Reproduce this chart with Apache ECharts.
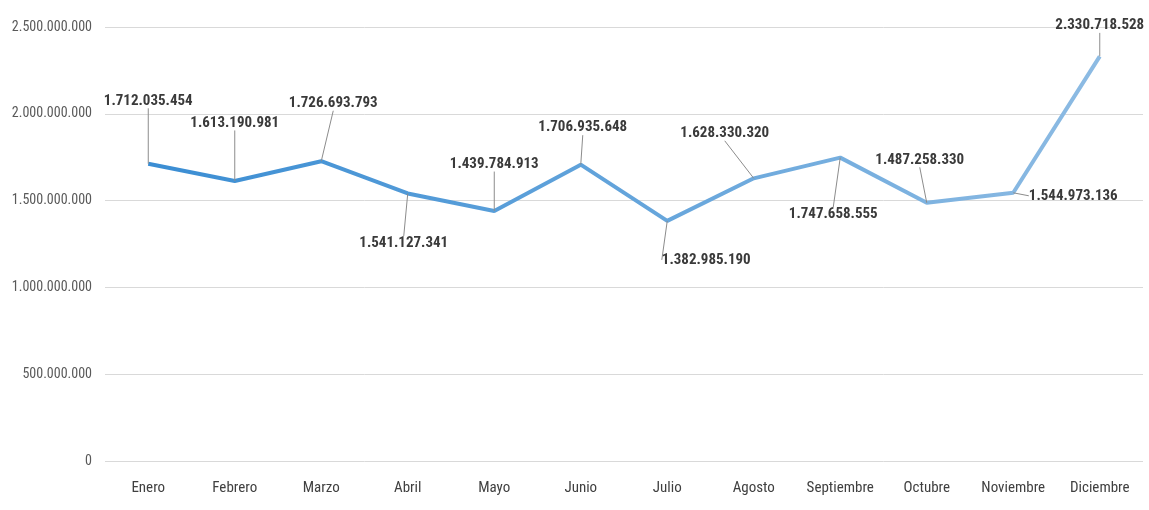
<!DOCTYPE html>
<html>
<head>
<meta charset="utf-8">
<script src="https://cdn.jsdelivr.net/npm/echarts@6/dist/echarts.min.js"></script>
<style>html,body{margin:0;padding:0;background:#fff;}#c{width:1149px;height:510px;}</style>
</head>
<body>
<div id="c"></div>
<script>
var months = ['Enero','Febrero','Marzo','Abril','Mayo','Junio','Julio','Agosto','Septiembre','Octubre','Noviembre','Diciembre'];
var values = [1712035454, 1613190981, 1726693793, 1541127341, 1439784913, 1706935648, 1382985190, 1628330320, 1747658555, 1487258330, 1544973136, 2330718528];
var yTicks = [0, 500000000, 1000000000, 1500000000, 2000000000, 2500000000];

var labelOffsets = [[0,-63],[0,-58],[12,-58],[-4,50],[0,-47],[2,-37],[39,39],[-29,-45],[-7,57],[-7,-43],[60,3],[0,-31]];

function fmt(v){ return String(Math.round(v)).replace(/\B(?=(\d{3})+(?!\d))/g, '.'); }
var FONT = '"Roboto Condensed", "Open Sans Condensed", "DejaVu Sans Condensed", sans-serif';

var chart = echarts.init(document.getElementById('c'), null, {renderer:'canvas'});
chart.setOption({
  animation: false,
  backgroundColor: '#ffffff',
  grid: {left: 105, right: 6, top: 27, bottom: 49},
  xAxis: {
    type: 'category',
    data: months,
    boundaryGap: true,
    axisLine: {show: false},
    axisTick: {show: false},
    axisLabel: {interval: 0, color: '#404040', fontSize: 15, fontFamily: FONT, margin: 20}
  },
  yAxis: {
    type: 'value',
    min: yTicks[0],
    max: yTicks[yTicks.length-1],
    interval: yTicks[1]-yTicks[0],
    axisLine: {show: false},
    axisTick: {show: false},
    splitLine: {lineStyle: {color: '#d9d9d9', width: 1}},
    axisLabel: {color: '#595959', fontSize: 14, fontFamily: FONT, margin: 13, formatter: fmt}
  },
  series: [{
    type: 'line',
    data: values,
    symbol: 'circle',
    symbolSize: 0.1,
    itemStyle: {color: 'rgba(0,0,0,0)'},
    lineStyle: {
      width: 4,
      color: new echarts.graphic.LinearGradient(0,0,1,0,[{offset:0,color:'#3a8dd3'},{offset:1,color:'#8dbbe3'}])
    },
    label: {
      show: true,
      position: 'inside',
      color: '#3a3a3a',
      fontWeight: 'bold',
      fontSize: 15,
      fontFamily: FONT,
      formatter: function(p){ return fmt(p.value); }
    },
    labelLine: {show: true, lineStyle: {color: '#8c8c8c', width: 1}},
    labelLayout: function(p){
      var o = labelOffsets[p.dataIndex];
      return {dx: o[0], dy: o[1]};
    }
  }]
});
</script>
</body>
</html>
